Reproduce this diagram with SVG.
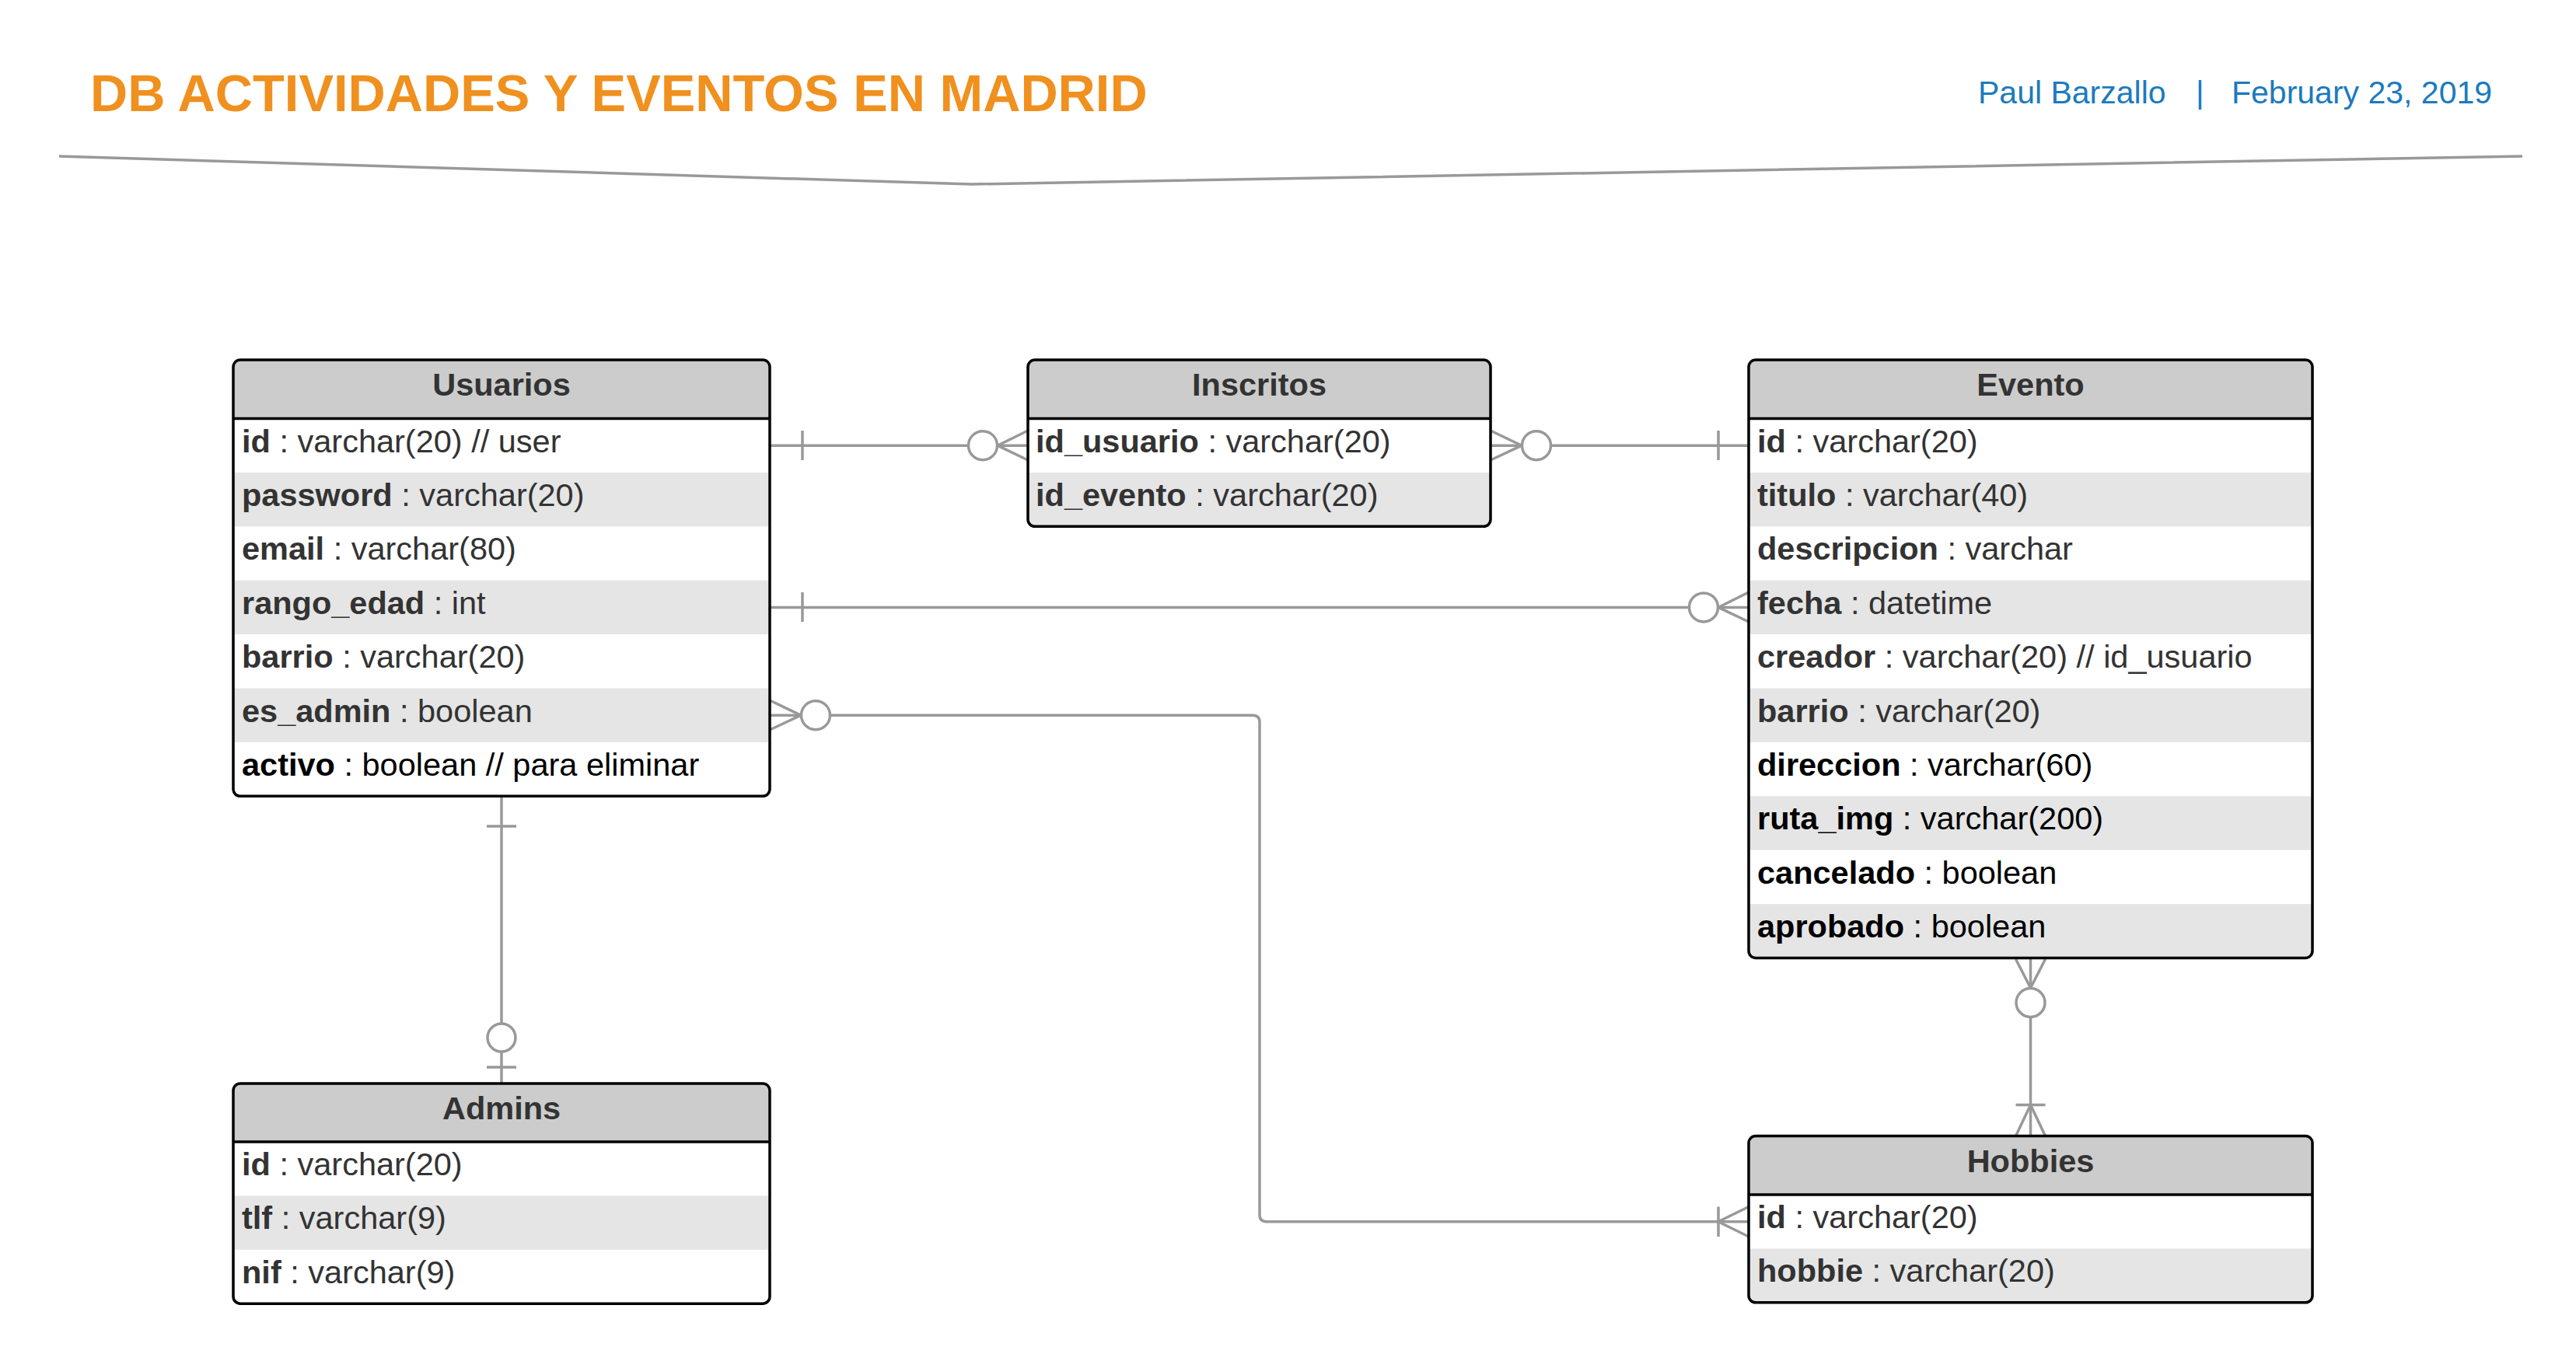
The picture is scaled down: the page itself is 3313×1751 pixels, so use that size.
<svg xmlns="http://www.w3.org/2000/svg" width="3313" height="1751" viewBox="0 0 3313 1751">
<style>
.t{font-family:"Liberation Sans",Arial,sans-serif;font-size:41.5px;fill:#333}
.b{font-weight:bold}
.k{fill:#000}
.hd{font-weight:bold;text-anchor:middle}
.hf{fill:#ccc}
.alt{fill:#e5e5e5}
.wf{fill:#fff}
.box{fill:none;stroke:#000;stroke-width:3.5}
.sep{stroke:#000;stroke-width:3.5}
.c{stroke:#999;stroke-width:3.5;fill:none}
.o{stroke:#999;stroke-width:3.5;fill:#fff}
</style>
<defs>
<clipPath id="cpU"><rect x="300" y="463" width="690" height="561.3" rx="9"/></clipPath>
<clipPath id="cpI"><rect x="1322" y="463" width="595" height="214.3" rx="9"/></clipPath>
<clipPath id="cpE"><rect x="2249" y="463" width="725" height="769.5" rx="9"/></clipPath>
<clipPath id="cpA"><rect x="300" y="1394" width="690" height="283.2" rx="9"/></clipPath>
<clipPath id="cpH"><rect x="2249" y="1461.5" width="725" height="214.3" rx="9"/></clipPath>
</defs>
<rect width="3313" height="1751" fill="#fff"/>

<g id="header">
<text x="116" y="143" style="font-family:'Liberation Sans',Arial,sans-serif;font-size:66.8px;font-weight:bold;fill:#F0901E">DB ACTIVIDADES Y EVENTOS EN MADRID</text>
<text y="133" style="font-family:'Liberation Sans',Arial,sans-serif;font-size:41px;fill:#1B7BBE"><tspan x="2544">Paul Barzallo</tspan><tspan x="2824">|</tspan><tspan x="2870">February 23, 2019</tspan></text>
<polyline points="76,201 1250,237 3244,201" fill="none" stroke="#999" stroke-width="3.5"/>
</g>

<g id="connectors">
<!-- Usuarios - Inscritos -->
<g id="c1">
<line class="c" x1="990" y1="573.2" x2="1322" y2="573.2"/>
<line class="c" x1="1032" y1="554" x2="1032" y2="592"/>
<path class="c" d="M1322,554 L1283,573.2 L1322,592"/>
<circle class="o" cx="1264" cy="573.2" r="18.5"/>
</g>
<!-- Inscritos - Evento -->
<g id="c2">
<line class="c" x1="1917" y1="573.2" x2="2249" y2="573.2"/>
<path class="c" d="M1917,554 L1957,573.2 L1917,592"/>
<circle class="o" cx="1976" cy="573.2" r="18.5"/>
<line class="c" x1="2210" y1="554" x2="2210" y2="592"/>
</g>
<!-- Usuarios - Evento -->
<g id="c3">
<line class="c" x1="990" y1="781.4" x2="2249" y2="781.4"/>
<line class="c" x1="1032" y1="762" x2="1032" y2="800"/>
<path class="c" d="M2249,762 L2210,781.4 L2249,800"/>
<circle class="o" cx="2191" cy="781.4" r="18.5"/>
</g>
<!-- Usuarios - Hobbies -->
<g id="c4">
<path class="c" d="M990,920.2 H1611 Q1620,920.2 1620,929 V1563 Q1620,1571.7 1629,1571.7 H2249"/>
<path class="c" d="M990,901 L1030,920.2 L990,939"/>
<circle class="o" cx="1049" cy="920.2" r="18.5"/>
<path class="c" d="M2249,1552.5 L2210,1571.7 L2249,1591"/>
<line class="c" x1="2210" y1="1552.5" x2="2210" y2="1591"/>
</g>
<!-- Usuarios - Admins -->
<g id="c5">
<line class="c" x1="645" y1="1024" x2="645" y2="1394"/>
<line class="c" x1="626" y1="1063" x2="664" y2="1063"/>
<circle class="o" cx="645" cy="1335" r="18"/>
<line class="c" x1="626" y1="1373" x2="664" y2="1373"/>
</g>
<!-- Evento - Hobbies -->
<g id="c6">
<line class="c" x1="2611.5" y1="1232.5" x2="2611.5" y2="1461.5"/>
<path class="c" d="M2592.5,1234 L2611.5,1271 L2630.5,1234"/>
<circle class="o" cx="2611.5" cy="1290" r="18.5"/>
<line class="c" x1="2592.5" y1="1421.5" x2="2630.5" y2="1421.5"/>
<path class="c" d="M2592.5,1461.5 L2611.5,1421.5 L2630.5,1461.5"/>
</g>
</g>

<g id="usuarios">
<g clip-path="url(#cpU)">
<rect class="wf" x="300" y="463" width="690" height="561.3"/>
<rect class="hf" x="300" y="463" width="690" height="75.5"/>
<rect class="alt" x="300" y="607.9" width="690" height="69.4"/>
<rect class="alt" x="300" y="746.7" width="690" height="69.4"/>
<rect class="alt" x="300" y="885.5" width="690" height="69.4"/>
</g>
<line class="sep" x1="300" y1="538.5" x2="990" y2="538.5"/>
<rect class="box" x="300" y="463" width="690" height="561.3" rx="9"/>
<text class="t hd" x="645" y="509">Usuarios</text>
<text class="t" x="311" y="581.5"><tspan class="b">id</tspan> : varchar(20) // user</text>
<text class="t" x="311" y="650.9"><tspan class="b">password</tspan> : varchar(20)</text>
<text class="t" x="311" y="720.3"><tspan class="b">email</tspan> : varchar(80)</text>
<text class="t" x="311" y="789.7"><tspan class="b">rango_edad</tspan> : int</text>
<text class="t" x="311" y="859.1"><tspan class="b">barrio</tspan> : varchar(20)</text>
<text class="t" x="311" y="928.5"><tspan class="b">es_admin</tspan> : boolean</text>
<text class="t k" x="311" y="997.9"><tspan class="b">activo</tspan> : boolean // para eliminar</text>
</g>

<g id="inscritos">
<g clip-path="url(#cpI)">
<rect class="wf" x="1322" y="463" width="595" height="214.3"/>
<rect class="hf" x="1322" y="463" width="595" height="75.5"/>
<rect class="alt" x="1322" y="607.9" width="595" height="69.4"/>
</g>
<line class="sep" x1="1322" y1="538.5" x2="1917" y2="538.5"/>
<rect class="box" x="1322" y="463" width="595" height="214.3" rx="9"/>
<text class="t hd" x="1619.5" y="509">Inscritos</text>
<text class="t" x="1332" y="581.5"><tspan class="b">id_usuario</tspan> : varchar(20)</text>
<text class="t" x="1332" y="650.9"><tspan class="b">id_evento</tspan> : varchar(20)</text>
</g>

<g id="evento">
<g clip-path="url(#cpE)">
<rect class="wf" x="2249" y="463" width="725" height="769.5"/>
<rect class="hf" x="2249" y="463" width="725" height="75.5"/>
<rect class="alt" x="2249" y="607.9" width="725" height="69.4"/>
<rect class="alt" x="2249" y="746.7" width="725" height="69.4"/>
<rect class="alt" x="2249" y="885.5" width="725" height="69.4"/>
<rect class="alt" x="2249" y="1024.3" width="725" height="69.4"/>
<rect class="alt" x="2249" y="1163.1" width="725" height="69.4"/>
</g>
<line class="sep" x1="2249" y1="538.5" x2="2974" y2="538.5"/>
<rect class="box" x="2249" y="463" width="725" height="769.5" rx="9"/>
<text class="t hd" x="2611.5" y="509">Evento</text>
<text class="t" x="2260" y="581.5"><tspan class="b">id</tspan> : varchar(20)</text>
<text class="t" x="2260" y="650.9"><tspan class="b">titulo</tspan> : varchar(40)</text>
<text class="t" x="2260" y="720.3"><tspan class="b">descripcion</tspan> : varchar</text>
<text class="t" x="2260" y="789.7"><tspan class="b">fecha</tspan> : datetime</text>
<text class="t" x="2260" y="859.1"><tspan class="b">creador</tspan> : varchar(20) // id_usuario</text>
<text class="t" x="2260" y="928.5"><tspan class="b">barrio</tspan> : varchar(20)</text>
<text class="t k" x="2260" y="997.9"><tspan class="b">direccion</tspan> : varchar(60)</text>
<text class="t k" x="2260" y="1067.3"><tspan class="b">ruta_img</tspan> : varchar(200)</text>
<text class="t k" x="2260" y="1136.7"><tspan class="b">cancelado</tspan> : boolean</text>
<text class="t k" x="2260" y="1206.1"><tspan class="b">aprobado</tspan> : boolean</text>
</g>

<g id="admins">
<g clip-path="url(#cpA)">
<rect class="wf" x="300" y="1394" width="690" height="283.2"/>
<rect class="hf" x="300" y="1394" width="690" height="75"/>
<rect class="alt" x="300" y="1538.4" width="690" height="69.4"/>
</g>
<line class="sep" x1="300" y1="1469" x2="990" y2="1469"/>
<rect class="box" x="300" y="1394" width="690" height="283.2" rx="9"/>
<text class="t hd" x="645" y="1440">Admins</text>
<text class="t" x="311" y="1512"><tspan class="b">id</tspan> : varchar(20)</text>
<text class="t" x="311" y="1581.4"><tspan class="b">tlf</tspan> : varchar(9)</text>
<text class="t" x="311" y="1650.8"><tspan class="b">nif</tspan> : varchar(9)</text>
</g>

<g id="hobbies">
<g clip-path="url(#cpH)">
<rect class="wf" x="2249" y="1461.5" width="725" height="214.3"/>
<rect class="hf" x="2249" y="1461.5" width="725" height="75.5"/>
<rect class="alt" x="2249" y="1606.4" width="725" height="69.4"/>
</g>
<line class="sep" x1="2249" y1="1537" x2="2974" y2="1537"/>
<rect class="box" x="2249" y="1461.5" width="725" height="214.3" rx="9"/>
<text class="t hd" x="2611.5" y="1507.5">Hobbies</text>
<text class="t" x="2260" y="1580"><tspan class="b">id</tspan> : varchar(20)</text>
<text class="t" x="2260" y="1649.4"><tspan class="b">hobbie</tspan> : varchar(20)</text>
</g>
</svg>
